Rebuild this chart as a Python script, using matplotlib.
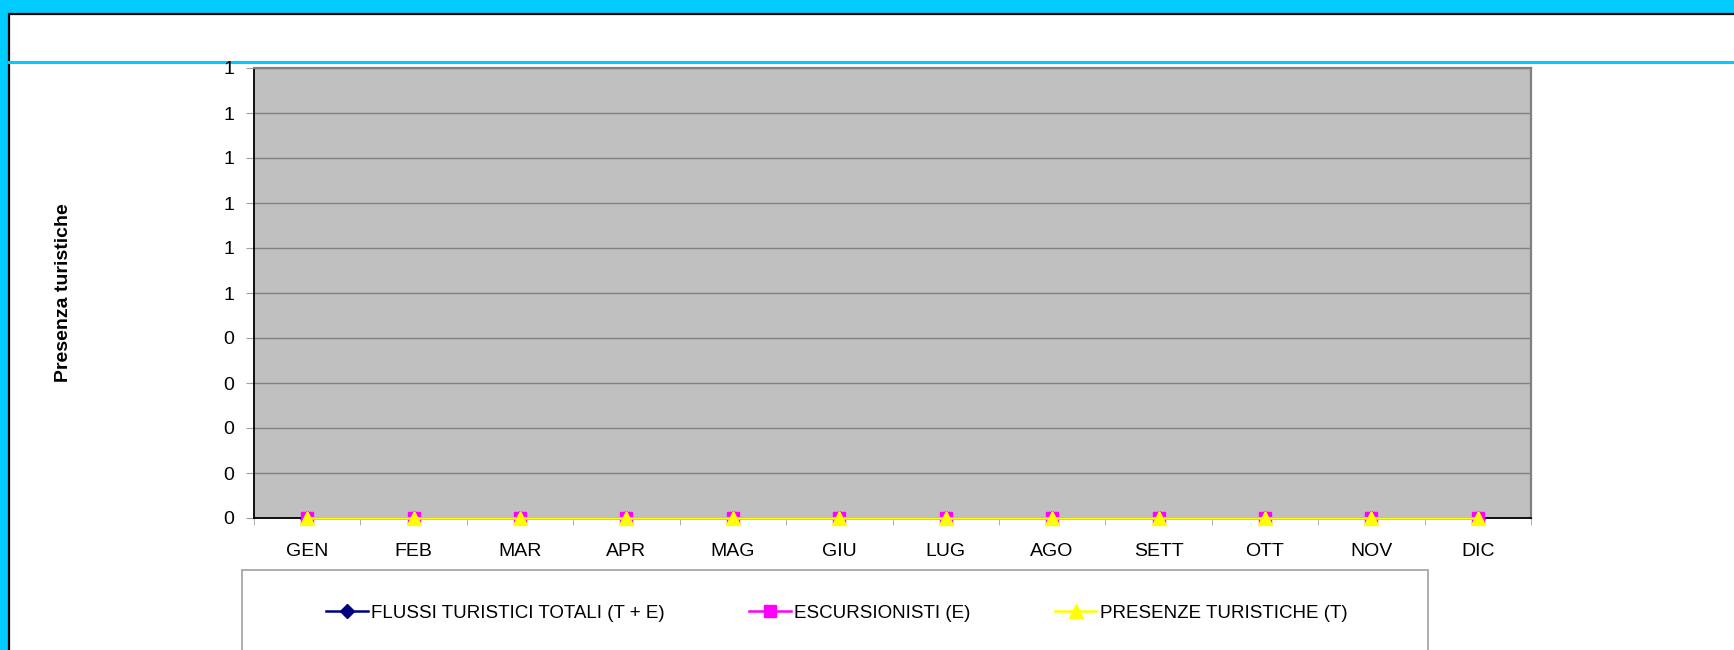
import matplotlib
matplotlib.use("Agg")
import matplotlib.pyplot as plt
from matplotlib.patches import Rectangle
from matplotlib.lines import Line2D

plt.rcParams['font.family'] = ['Liberation Sans', 'DejaVu Sans']

# dati
mesi = ["GEN", "FEB", "MAR", "APR", "MAG", "GIU", "LUG", "AGO", "SETT", "OTT", "NOV", "DIC"]
flussi_totali = [0, 0, 0, 0, 0, 0, 0, 0, 0, 0, 0, 0]
escursionisti = [0, 0, 0, 0, 0, 0, 0, 0, 0, 0, 0, 0]
presenze = [0, 0, 0, 0, 0, 0, 0, 0, 0, 0, 0, 0]
y_ticks = [0, 0.1, 0.2, 0.3, 0.4, 0.5, 0.6, 0.7, 0.8, 0.9, 1.0]
y_labels = ["0", "0", "0", "0", "0", "1", "1", "1", "1", "1", "1"]

W, H = 1734, 650
fig = plt.figure(figsize=(W / 100, H / 100), dpi=100)
fig.patch.set_facecolor("#00CCFF")

def px(x, y):
    return x / W, 1 - y / H

# riquadro bianco con bordo nero
fig.patches.append(Rectangle(px(9, 700), (W + 50) / W, (700 - 14) / H,
                             transform=fig.transFigure, facecolor="white",
                             edgecolor="black", linewidth=1.6, zorder=-3))
# linea ciano sotto il titolo
fig.add_artist(Line2D([9 / W, 1], [1 - 62 / H, 1 - 62 / H], transform=fig.transFigure,
                      color="#00CCFF", linewidth=2.2, zorder=-2))
# riquadro legenda
fig.patches.append(Rectangle(px(242, 700), (1428 - 242) / W, (700 - 570) / H,
                             transform=fig.transFigure, facecolor="white",
                             edgecolor="#A0A0A0", linewidth=1.2, zorder=-2))

ax = fig.add_axes([254 / W, 1 - 518 / H, (1531 - 254) / W, (518 - 68) / H])
ax.set_facecolor("#C0C0C0")
x = list(range(len(mesi)))

ax.plot(x, flussi_totali, color="#000080", marker="D", markersize=7, linewidth=1.8,
        label="FLUSSI TURISTICI TOTALI (T + E)", clip_on=False, zorder=3)
ax.plot(x, escursionisti, color="#FF00FF", marker="s", markersize=9, linewidth=1.8,
        label="ESCURSIONISTI (E)", clip_on=False, zorder=4)
ax.plot(x, presenze, color="#FFFF00", marker="^", markersize=9.5, linewidth=1.8,
        label="PRESENZE TURISTICHE (T)", clip_on=False, zorder=5)

ax.set_xlim(-0.5, len(mesi) - 0.5)
ax.set_ylim(0, 1)
ax.set_yticks(y_ticks)
ax.set_yticklabels(y_labels, fontsize=14)
ax.set_xticks(x)
ax.set_xticklabels(mesi, fontsize=14)
ax.set_xticks([i - 0.5 for i in range(len(mesi) + 1)], minor=True)
ax.tick_params(axis="x", which="major", length=0, pad=18)
ax.tick_params(axis="x", which="minor", length=5, color="#A0A0A0", direction="out")
ax.tick_params(axis="y", length=6, color="#A0A0A0", pad=8)
ax.grid(axis="y", color="#808080", linewidth=1)
ax.set_axisbelow(True)
for s in ["top", "right"]:
    ax.spines[s].set_color("#808080")
    ax.spines[s].set_linewidth(1.6)
for s in ["left", "bottom"]:
    ax.spines[s].set_color("black")
    ax.spines[s].set_linewidth(1.3)

fig.text(64 / W, 1 - 293 / H, "Presenza turistiche", rotation=90, fontsize=14,
         fontweight="bold", ha="center", va="center")

fig.legend(loc="center", bbox_to_anchor=(837 / W, 1 - 613 / H), ncol=3, frameon=False,
           fontsize=13.5, handlelength=2.2, handletextpad=0.2, columnspacing=4.5,
           numpoints=1)

fig.savefig("out.png", dpi=100, facecolor=fig.get_facecolor())
